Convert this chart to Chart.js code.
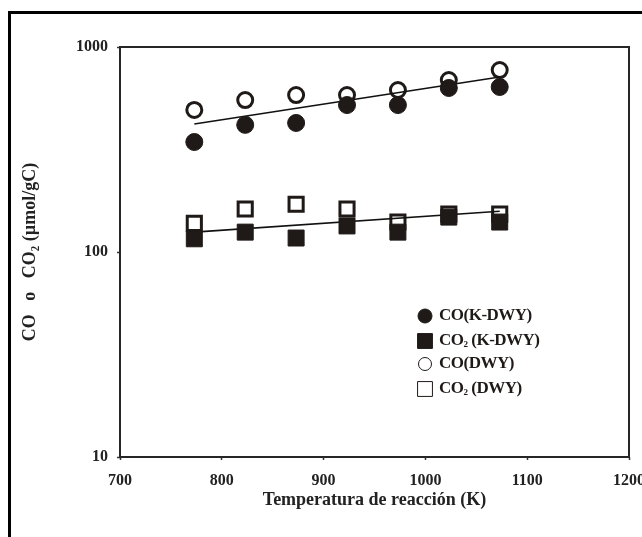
<!DOCTYPE html>
<html>
<head>
<meta charset="utf-8">
<script src="https://cdn.jsdelivr.net/npm/chart.js@4/dist/chart.umd.min.js"></script>
<style>
  body { margin: 0; background: #fff; }
  #wrap { position: relative; width: 642px; height: 537px; overflow: hidden; }
  #frame { position: absolute; left: 8px; top: 11px; width: 700px; height: 600px;
           border-left: 3px solid #000; border-top: 3px solid #000; }
  canvas { position: absolute; left: 0; top: 0; }
</style>
</head>
<body>
<div id="wrap">
  <div id="frame"></div>
  <canvas id="chart" width="642" height="537"></canvas>
</div>
<script>
// ---------- Data ----------
const temps = [773, 823, 873, 923, 973, 1023, 1073];
const coKDWY = [344, 417, 426, 521, 521, 631, 638];
const co2KDWY = [116, 125, 117, 134, 125, 148, 140];
const coDWY = [493, 551, 583, 583, 617, 690, 772];
const co2DWY = [138, 162, 171, 162, 140, 153, 153];

// trend lines (ends only)
const fitTemps = [773, 1073];
const coFit = [421, 714];
const co2Fit = [125, 158];

const xTicks = [700, 800, 900, 1000, 1100, 1200];
const yTicks = [10, 100, 1000];

const ink = "#1f1a17";
const serif = "'Liberation Serif', 'Times New Roman', serif";

function pts(xs, ys) {
  return xs.map((x, i) => ({ x, y: ys[i] }));
}

// ---------- Plugins ----------
const framePlugin = {
  id: "frame",
  beforeDatasetsDraw(chart) {
    const { ctx, chartArea: a } = chart;
    ctx.save();
    ctx.strokeStyle = "#262626";
    ctx.lineWidth = 2;
    ctx.strokeRect(a.left, a.top, a.right - a.left, a.bottom - a.top);
    ctx.restore();
  }
};

const legendItems = [
  { main: "CO", sub: "", rest: "(K-DWY)", style: "circle", filled: true, r: 7 },
  { main: "CO", sub: "2", rest: " (K-DWY)", style: "rect", filled: true, r: 10.5 },
  { main: "CO", sub: "", rest: "(DWY)", style: "circle", filled: false, r: 6.5 },
  { main: "CO", sub: "2", rest: " (DWY)", style: "rect", filled: false, r: 10.5 }
];

const legendPlugin = {
  id: "customLegend",
  afterDraw(chart) {
    const ctx = chart.ctx;
    const rows = [316, 341, 364, 389];
    ctx.save();
    legendItems.forEach((it, i) => {
      const y = rows[i];
      ctx.fillStyle = it.filled ? ink : "rgba(0,0,0,0)";
      ctx.strokeStyle = ink;
      Chart.helpers.drawPoint(ctx, {
        pointStyle: it.style, radius: it.r, borderWidth: it.filled ? 1 : 3.5, rotation: 0
      }, 425, y);
      ctx.fillStyle = ink;
      ctx.textBaseline = "middle";
      ctx.letterSpacing = "-0.5px";
      ctx.font = "bold 17px " + serif;
      let x = 439;
      ctx.fillText(it.main, x, y);
      x += ctx.measureText(it.main).width;
      if (it.sub) {
        ctx.font = "bold 9px " + serif;
        ctx.fillText(it.sub, x, y + 4);
        x += ctx.measureText(it.sub).width;
        ctx.font = "bold 17px " + serif;
      }
      ctx.fillText(it.rest, x, y);
    });
    ctx.restore();
  }
};

// ---------- Chart ----------
new Chart(document.getElementById("chart"), {
  type: "scatter",
  data: {
    datasets: [
      {
        label: "CO(K-DWY)",
        data: pts(temps, coKDWY),
        pointStyle: "circle",
        pointRadius: 8.5,
        backgroundColor: ink,
        borderColor: ink,
        borderWidth: 1
      },
      {
        label: "CO2 (K-DWY)",
        data: pts(temps, co2KDWY),
        pointStyle: "rect",
        pointRadius: 11.3,
        backgroundColor: ink,
        borderColor: ink,
        borderWidth: 1
      },
      {
        label: "CO fit",
        data: pts(fitTemps, coFit),
        showLine: true,
        pointRadius: 0,
        borderColor: "#111",
        borderWidth: 1.6
      },
      {
        label: "CO2 fit",
        data: pts(fitTemps, co2Fit),
        showLine: true,
        pointRadius: 0,
        borderColor: "#111",
        borderWidth: 1.6
      },
      {
        label: "CO(DWY)",
        data: pts(temps, coDWY),
        pointStyle: "circle",
        pointRadius: 7.5,
        backgroundColor: "rgba(0,0,0,0)",
        borderColor: ink,
        borderWidth: 3
      },
      {
        label: "CO2 (DWY)",
        data: pts(temps, co2DWY),
        pointStyle: "rect",
        pointRadius: 10,
        backgroundColor: "rgba(0,0,0,0)",
        borderColor: ink,
        borderWidth: 3
      }
    ]
  },
  options: {
    responsive: false,
    animation: false,
    events: [],
    layout: { padding: { left: 0, top: 47, right: 13, bottom: 19 } },
    plugins: { legend: { display: false }, tooltip: { enabled: false } },
    scales: {
      x: {
        type: "linear",
        min: 700,
        max: 1200,
        afterBuildTicks: (s) => { s.ticks = xTicks.map((v) => ({ value: v })); },
        afterFit: (s) => { s.height = 61; s.paddingLeft = 0; s.paddingRight = 0; },
        border: { display: false },
        grid: { drawOnChartArea: false, tickLength: 3, tickColor: "#333", tickWidth: 1.5 },
        ticks: {
          color: "#222",
          padding: 11,
          font: { family: serif, size: 16, weight: "bold" },
          callback: (v) => String(v)
        },
        title: {
          display: true,
          text: "Temperatura de reacción (K)",
          color: "#222",
          padding: { top: 0, bottom: 7 },
          font: { family: serif, size: 18, weight: "bold" }
        }
      },
      y: {
        type: "logarithmic",
        min: 10,
        max: 1000,
        afterBuildTicks: (s) => { s.ticks = yTicks.map((v) => ({ value: v })); },
        afterFit: (s) => { s.width = 120; },
        border: { display: false },
        grid: { drawOnChartArea: false, tickLength: 3, tickColor: "#333", tickWidth: 1.5 },
        ticks: {
          color: "#222",
          padding: 9,
          font: { family: serif, size: 16, weight: "bold" },
          callback: (v) => String(v)
        },
        title: {
          display: true,
          text: "CO   o   CO₂ (µmol/gC)",
          color: "#222",
          padding: { top: 20, bottom: 0 },
          font: { family: serif, size: 18, weight: "bold" }
        }
      }
    }
  },
  plugins: [framePlugin, legendPlugin]
});
</script>
</body>
</html>
